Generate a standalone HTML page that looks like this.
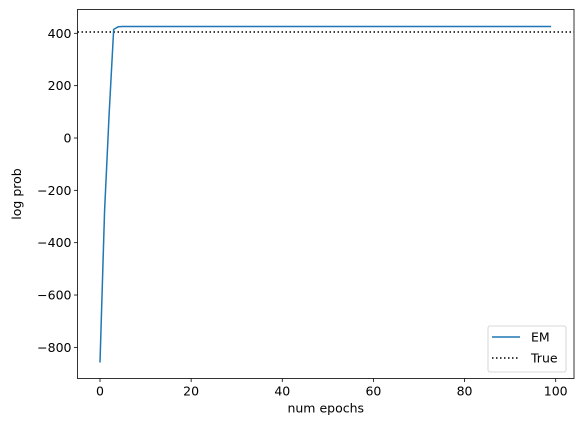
<!DOCTYPE html>
<html><head><style>
body{margin:0;background:#fff;}
svg text{font-family:"DejaVu Sans","Liberation Sans",sans-serif;font-size:12.5px;fill:#000;}
</style></head><body>
<svg id="chart" width="583" height="432" xmlns="http://www.w3.org/2000/svg"></svg>
<script>
const emValues=[-858,-280,90,415,425];
for(let i=5;i<100;i++) emValues.push(426);
const trueValue=[405];
const xTicks=[0,20,40,60,80,100];
const yTicks=[-800,-600,-400,-200,0,200,400];
const L=77.5,R=574,T=9.5,B=378.5;
const xs=v=>100+4.557*v;
const ys=v=>138-0.2617*v;
const svg=document.getElementById('chart');
const NS='http://www.w3.org/2000/svg';
function mk(tag,attrs,parent){const e=document.createElementNS(NS,tag);for(const k in attrs)e.setAttribute(k,attrs[k]);(parent||svg).appendChild(e);return e;}
const fmt=t=>t<0?'\u2212'+(-t):String(t);
xTicks.forEach(t=>{
 const g=mk('g',{});
 
 
 mk('line',{x1:xs(t),x2:xs(t),y1:B,y2:B+3.5,stroke:'#000','stroke-width':0.8},g);
 const tx=mk('text',{x:xs(t),y:B+17,'text-anchor':'middle'},g);tx.textContent=fmt(t);
});
yTicks.forEach(t=>{
 const g=mk('g',{});
 
 
 mk('line',{x1:L-3.5,x2:L,y1:ys(t),y2:ys(t),stroke:'#000','stroke-width':0.8},g);
 const tx=mk('text',{x:L-6,y:ys(t)+4.5,'text-anchor':'end'},g);tx.textContent=fmt(t);
});
const tl=mk('line',{x1:L,x2:R,y1:ys(trueValue[0]),y2:ys(trueValue[0]),stroke:'#000','stroke-width':1.5,'stroke-dasharray':'1.5,2.5'});


const em=mk('polyline',{points:emValues.map((v,i)=>xs(i)+','+ys(v)).join(' '),fill:'none',stroke:'#1f77b4','stroke-width':1.5});


const fr=mk('rect',{x:L,y:T,width:R-L,height:B-T,fill:'none',stroke:'#000','stroke-width':0.8});


const xl=mk('text',{x:(L+R)/2,y:B+34,'text-anchor':'middle'});xl.textContent='num epochs';


const yl=mk('text',{x:21,y:(T+B)/2,'text-anchor':'middle',transform:'rotate(-90 21 '+((T+B)/2)+')'});yl.textContent='log prob';


const lg=mk('g',{});


mk('rect',{x:488,y:326,width:78,height:46,rx:2,fill:'#fff',stroke:'#ccc','stroke-width':0.8},lg);
const e1=mk('g',{},lg);


mk('line',{x1:492,x2:520,y1:337,y2:337,stroke:'#1f77b4','stroke-width':1.5},e1);
const t1=mk('text',{x:531,y:341.5},e1);t1.textContent='EM';
const e2=mk('g',{},lg);


mk('line',{x1:492,x2:520,y1:358,y2:358,stroke:'#000','stroke-width':1.5,'stroke-dasharray':'1.5,2.5'},e2);
const t2=mk('text',{x:531,y:362.5},e2);t2.textContent='True';
</script>
</body></html>
